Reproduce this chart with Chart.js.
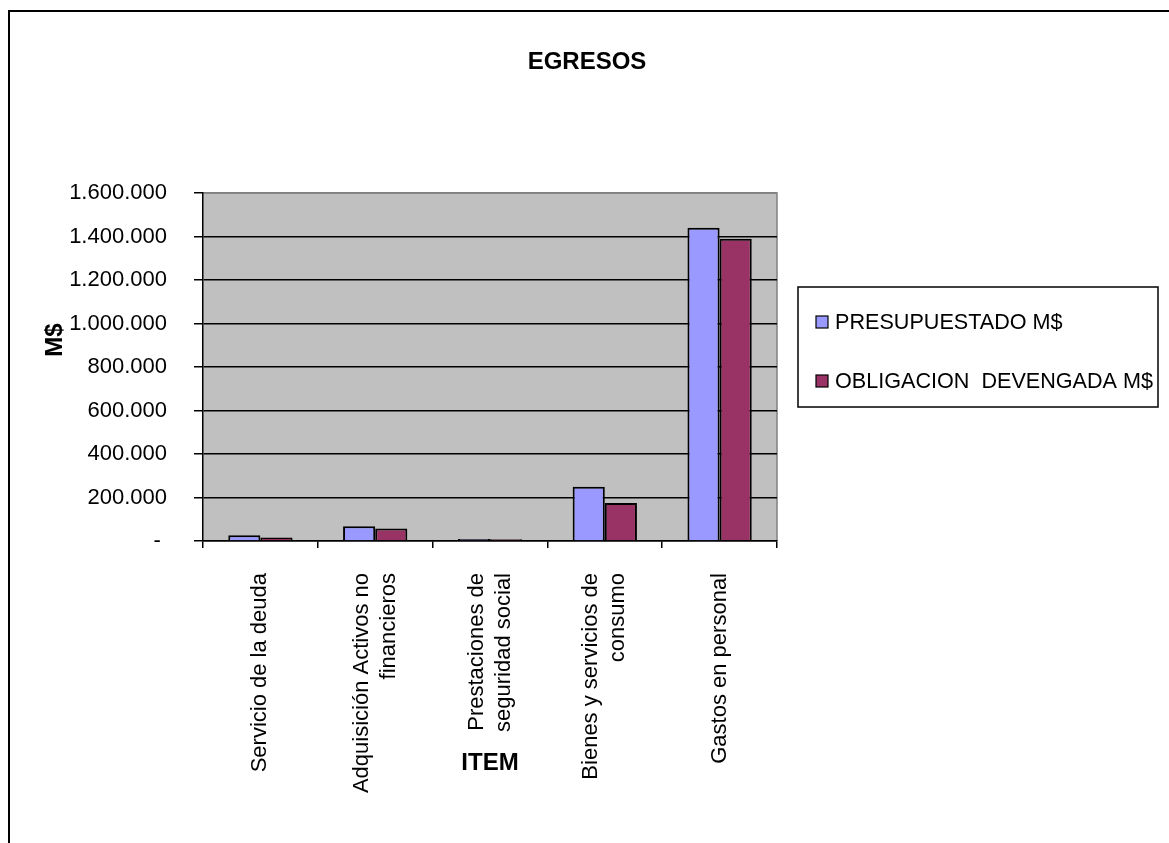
<!DOCTYPE html>
<html>
<head>
<meta charset="utf-8">
<title>EGRESOS</title>
<script src="https://cdn.jsdelivr.net/npm/chart.js@4/dist/chart.umd.min.js"></script>
<style>
  html, body { margin: 0; padding: 0; background: #fff; overflow: hidden; }
  #egresosChart { display: block; }
</style>
</head>
<body>
<canvas id="egresosChart" width="1169" height="843"></canvas>
<script>
// datos del grafico
const chartTitle = 'EGRESOS';
const yAxisTitle = 'M$';
const xAxisTitle = 'ITEM';
const categories = [
    ['Servicio de la deuda'],
    ['Adquisición Activos no', 'financieros'],
    ['Prestaciones de', 'seguridad social'],
    ['Bienes y servicios de', 'consumo'],
    ['Gastos en personal']
];
const presupuestado = [27000, 68000, 9000, 250000, 1440000];
const obligacion = [16000, 57000, 8000, 175000, 1390000];
const seriesNames = ['PRESUPUESTADO M$', 'OBLIGACION  DEVENGADA M$'];
const yMin = 0, yMax = 1600000, yStep = 200000;

document.addEventListener('DOMContentLoaded', () => {
    const FONT = "'Liberation Sans', Arial, sans-serif";
    const colors = ['#9999FF', '#993366'];

    function formatMiles(v) {
        if (v === 0) return '- ';
        return String(v).replace(/\B(?=(\d{3})+(?!\d))/g, '.');
    }

    // fondo gris, marco, titulos, etiquetas del eje x y leyenda
    const excelLook = {
        id: 'excelLook',
        beforeDraw(chart) {
            const { ctx, chartArea: a } = chart;
            ctx.save();
            ctx.fillStyle = '#fff';
            ctx.fillRect(0, 0, chart.width, chart.height);
            ctx.fillStyle = '#C0C0C0';
            ctx.fillRect(a.left, a.top, a.right - a.left, a.bottom - a.top);
            ctx.strokeStyle = '#808080';
            ctx.lineWidth = 1.5;
            ctx.beginPath();
            ctx.moveTo(a.left, a.top);
            ctx.lineTo(a.right, a.top);
            ctx.lineTo(a.right, a.bottom);
            ctx.stroke();
            ctx.restore();
        },
        afterDraw(chart) {
            const { ctx, chartArea: a } = chart;
            const xScale = chart.scales.x;
            ctx.save();
            // marco exterior
            ctx.strokeStyle = '#000';
            ctx.lineWidth = 2;
            ctx.strokeRect(9, 11, 1300, 1000);

            ctx.fillStyle = '#000';
            ctx.textBaseline = 'middle';
            ctx.textAlign = 'center';
            ctx.font = 'bold 24px ' + FONT;
            ctx.fillText(chartTitle, 587, 62);
            ctx.fillText(xAxisTitle, (a.left + a.right) / 2, 763);

            ctx.save();
            ctx.translate(55, 340);
            ctx.rotate(-Math.PI / 2);
            ctx.fillText(yAxisTitle, 0, 0);
            ctx.restore();

            // etiquetas de categorias, verticales
            ctx.font = '22px ' + FONT;
            ctx.textAlign = 'right';
            const lineH = 27;
            categories.forEach((lines, i) => {
                const cx = xScale.getPixelForValue(i);
                lines.forEach((txt, j) => {
                    const x = cx + (j - (lines.length - 1) / 2) * lineH;
                    ctx.save();
                    ctx.translate(x, a.bottom + 32);
                    ctx.rotate(-Math.PI / 2);
                    ctx.fillText(txt, 0, 0);
                    ctx.restore();
                });
            });

            // leyenda con recuadro
            ctx.lineWidth = 1.5;
            ctx.strokeStyle = '#000';
            ctx.strokeRect(798, 287, 360, 120);
            ctx.font = '21.6px ' + FONT;
            ctx.textAlign = 'left';
            const itemY = [322, 381];
            chart.data.datasets.forEach((ds, i) => {
                ctx.fillStyle = ds.backgroundColor;
                ctx.fillRect(816, itemY[i] - 6, 12, 12);
                ctx.lineWidth = 1.2;
                ctx.strokeRect(816, itemY[i] - 6, 12, 12);
                ctx.fillStyle = '#000';
                ctx.fillText(ds.label, 835, itemY[i] + 1);
            });
            ctx.restore();
        }
    };

    const ctx = document.getElementById('egresosChart').getContext('2d');
    new Chart(ctx, {
        type: 'bar',
        data: {
            labels: categories.map(c => c.join(' ')),
            datasets: [
                { label: seriesNames[0], data: presupuestado, backgroundColor: colors[0] },
                { label: seriesNames[1], data: obligacion, backgroundColor: colors[1] }
            ]
        },
        options: {
            responsive: false,
            animation: false,
            devicePixelRatio: 1,
            layout: { padding: { left: 0, top: 193, right: 392, bottom: 0 } },
            datasets: {
                bar: {
                    borderColor: '#000',
                    borderWidth: 2,
                    categoryPercentage: 0.56,
                    barPercentage: 1.0
                }
            },
            plugins: {
                legend: { display: false },
                title: { display: false },
                tooltip: { enabled: false }
            },
            scales: {
                x: {
                    afterFit: s => { s.height = 843 - 541; },
                    grid: { display: true, drawOnChartArea: false, drawTicks: true, tickLength: 7, color: '#000', lineWidth: 1.5 },
                    border: { display: true, color: '#000', width: 1.5 },
                    ticks: { display: false }
                },
                y: {
                    min: yMin,
                    max: yMax,
                    afterFit: s => { s.width = 203; },
                    grid: {
                        color: c => (c.tick && c.tick.value === yMax ? '#808080' : '#000'),
                        lineWidth: 1.5,
                        tickLength: 9,
                        tickColor: '#000'
                    },
                    border: { display: true, color: '#000', width: 1.5 },
                    ticks: {
                        stepSize: yStep,
                        padding: 27,
                        color: '#000',
                        font: { family: FONT, size: 22 },
                        callback: v => formatMiles(v)
                    }
                }
            }
        },
        plugins: [excelLook]
    });
});
</script>
</body>
</html>
